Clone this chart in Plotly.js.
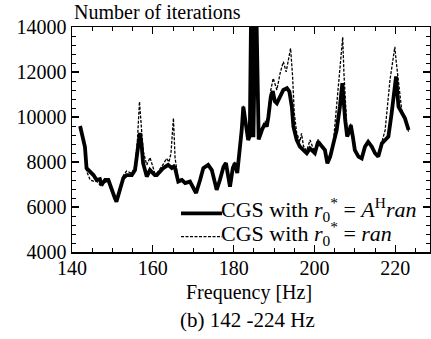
<!DOCTYPE html>
<html>
<head>
<meta charset="utf-8">
<script src="https://cdn.plot.ly/plotly-3.0.1.min.js"></script>
<style>html,body{margin:0;padding:0;background:#fff;}#chart{width:431px;height:339px;}</style>
</head>
<body>
<div id="chart"></div>
<script>
// Solid: CGS with r0* = A^H ran
const freqSolid = [142.0,142.7,143.2,143.6,144.5,145.3,146.1,146.9,147.3,148.2,149.0,149.8,150.6,151.0,151.9,152.7,153.5,154.8,155.6,156.4,156.8,157.2,157.6,158.5,159.3,160.5,161.0,162.6,163.8,164.7,165.2,165.5,166.3,167.2,168.0,169.2,170.0,170.7,171.7,172.5,173.7,174.6,175.4,175.8,176.6,177.5,178.1,178.7,179.1,179.8,180.3,180.9,181.4,181.6,182.0,182.4,182.8,183.2,183.6,184.0,184.4,184.9,185.5,186.2,186.5,187.0,187.8,188.2,188.6,189.2,189.7,190.2,190.7,191.5,192.3,193.2,193.8,194.4,194.8,195.6,196.4,197.3,198.1,198.9,199.7,200.1,200.9,201.8,202.6,203.2,203.9,204.7,205.5,206.3,206.9,207.6,208.1,208.6,209.0,209.5,210.0,210.9,211.7,212.5,213.3,214.2,215.0,215.8,216.7,217.5,218.3,219.1,219.8,220.2,220.8,221.6,222.4,223.3];
const itSolid = [9600,9100,8680,7730,7570,7420,7200,7240,6980,7200,7200,6760,6400,6240,6760,7290,7420,7420,7640,8680,9290,8800,7950,7350,7640,7420,7420,7730,7870,7730,7800,7730,7130,7200,7060,7130,6900,6620,7200,7730,7870,7640,7060,6760,7200,7790,7950,7200,6900,7730,7950,7510,8240,8680,9420,10460,9870,9270,8980,9150,16000,9100,16000,9000,9200,9420,9720,9570,10000,10900,11150,10700,10610,10900,11200,11280,11130,10460,9570,8980,8680,8530,8390,8600,8460,8390,8900,8680,8530,7940,8240,8830,9420,10460,11500,9870,9130,9350,9640,9130,8530,8240,8160,8680,8900,8680,8390,8240,8830,8980,9130,10160,11400,11800,10460,10160,9940,9420];

// Dashed: CGS with r0* = ran
const freqDashed = [142.0,142.7,143.2,143.6,144.5,145.3,146.1,147.3,148.2,149.0,149.8,151.0,151.9,152.7,153.5,154.8,155.6,156.2,156.7,157.2,157.6,158.5,159.3,160.5,161.0,162.6,163.4,164.0,164.5,165.1,165.5,166.3,167.2,168.0,169.2,170.0,170.7,171.7,172.5,173.7,174.6,175.4,175.8,176.6,177.5,178.1,178.7,179.1,179.8,180.3,180.9,181.4,181.6,182.0,182.4,182.8,183.2,183.6,184.0,184.4,184.9,185.5,186.2,186.5,187.0,187.8,188.2,188.6,189.2,189.8,190.7,191.5,192.3,193.0,193.6,194.1,194.6,195.0,195.6,196.4,196.8,197.3,198.1,198.9,199.7,200.1,200.9,201.8,202.6,203.2,203.9,204.7,205.1,205.9,206.5,207.0,207.3,207.8,208.1,208.6,209.0,209.5,210.0,210.9,211.7,212.5,213.3,214.2,215.0,215.8,216.7,217.5,218.7,219.9,220.2,220.8,221.6,222.4,223.3];
const itDashed = [9500,9000,8500,7600,7200,7150,7150,6900,7100,7150,6700,6300,6800,7400,7600,7500,7800,9000,10680,9500,8500,7870,8200,7500,7500,7900,8160,8000,8400,9950,8200,7200,7250,7100,7150,6950,6650,7250,7750,7900,7700,7100,6800,7250,7850,8000,7250,6950,7800,8000,7600,8300,8750,9500,10500,9900,9300,9000,9200,16000,9150,16000,9050,9250,9500,9800,9700,10200,11200,11720,11200,11940,12460,12010,12680,13050,11790,10200,9300,8900,9270,8700,8500,8980,8600,8500,9000,8750,8600,8000,8300,8900,9720,11200,12500,13550,11940,10460,9300,9400,9700,9200,8600,8300,8200,8750,8950,8750,8450,8300,8900,9420,11650,13120,12530,11500,10300,10000,9350];

const xTicks = [140,160,180,200,220];
const yTicks = [4000,6000,8000,10000,12000,14000];
const seriesNames = [
  'CGS with <i>r</i><sub>0</sub><sup>*</sup> = <i>A</i><sup>H</sup><i>ran</i>',
  'CGS with <i>r</i><sub>0</sub><sup>*</sup> = <i>ran</i>'
];

const serif = 'Liberation Serif, Times New Roman, serif';
const solidLine = {color: '#000', width: 3.8};
const dashedLine = {color: '#000', width: 1.3, dash: '3px,1.5px'};

const traces = [
  {x: freqSolid, y: itSolid, mode: 'lines', type: 'scatter', name: seriesNames[0], line: solidLine},
  {x: freqDashed, y: itDashed, mode: 'lines', type: 'scatter', name: seriesNames[1], line: dashedLine}
];

const axisCommon = {
  showgrid: false, zeroline: false, showline: true, linecolor: '#000', linewidth: 1.5,
  mirror: 'ticks', ticks: 'inside', tickcolor: '#000', tickwidth: 1.3, ticklen: 7,
  tickfont: {family: serif, size: 20, color: '#000'}
};

const legendFont = {family: serif, size: 22, color: '#000'};

const layout = {
  width: 431, height: 339,
  margin: {l: 72, r: 1, t: 27, b: 87, pad: 0},
  paper_bgcolor: '#fff', plot_bgcolor: '#fff',
  showlegend: false,
  font: {family: serif, color: '#000'},
  xaxis: Object.assign({}, axisCommon, {
    range: [140, 228.6], tickvals: xTicks, ticktext: xTicks.map(String), ticklabelstandoff: -3,
    minor: {dtick: 5, tick0: 140, ticks: 'inside', ticklen: 4, tickwidth: 1, tickcolor: '#000'}
  }),
  yaxis: Object.assign({}, axisCommon, {
    range: [4000, 14000], tickvals: yTicks, ticktext: yTicks.map(String),
    minor: {dtick: 400, tick0: 4000, ticks: 'inside', ticklen: 4, tickwidth: 1, tickcolor: '#000'}
  }),
  shapes: [
    {type: 'line', xref: 'paper', yref: 'paper', x0: 0.3045, x1: 0.419, y0: 0.172, y1: 0.172, line: solidLine},
    {type: 'line', xref: 'paper', yref: 'paper', x0: 0.3045, x1: 0.419, y0: 0.068, y1: 0.068, line: dashedLine}
  ],
  annotations: [
    {text: seriesNames[0], xref: 'paper', yref: 'paper', x: 0.411, y: 0.188, xanchor: 'left', yanchor: 'middle',
     showarrow: false, font: legendFont},
    {text: seriesNames[1], xref: 'paper', yref: 'paper', x: 0.411, y: 0.083, xanchor: 'left', yanchor: 'middle',
     showarrow: false, font: legendFont},
    {text: 'Number of iterations', xref: 'paper', yref: 'paper', x: 0, y: 1, xanchor: 'left', yanchor: 'bottom',
     yshift: 2, showarrow: false, font: {family: serif, size: 20, color: '#000'}},
    {text: 'Frequency [Hz]', xref: 'paper', yref: 'paper', x: 0.494, y: -0.178, xanchor: 'center', yanchor: 'middle',
     showarrow: false, font: {family: serif, size: 20, color: '#000'}},
    {text: '(b) 142 -224 Hz', xref: 'paper', yref: 'paper', x: 0.489, y: -0.302, xanchor: 'center', yanchor: 'middle',
     showarrow: false, font: {family: serif, size: 21, color: '#000'}}
  ]
};

Plotly.newPlot('chart', traces, layout, {staticPlot: true, displayModeBar: false});
</script>
</body>
</html>
